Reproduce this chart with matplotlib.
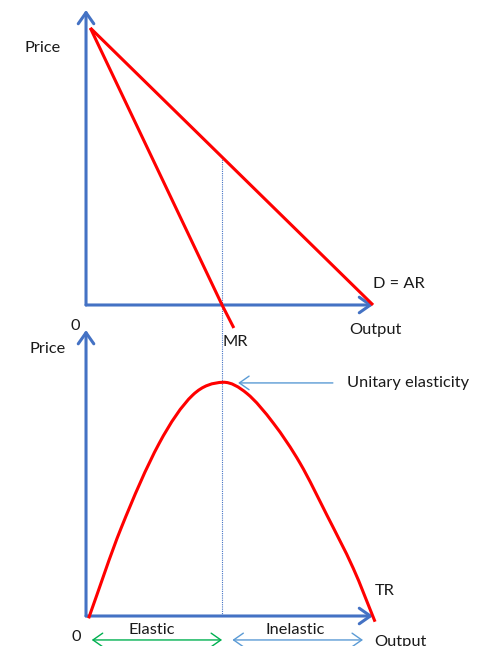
import matplotlib
matplotlib.use("Agg")
import matplotlib.pyplot as plt
from matplotlib.path import Path
from matplotlib.patches import PathPatch

# ── Style ─────────────────────────────────────────────────────────────────────
AX_BLUE   = "#4472c4"
ARR_BLUE  = "#5b9bd5"
RED       = "#ff0000"
GREEN     = "#00b050"
TXT       = "#1a1a1a"
plt.rcParams["font.family"] = ["Lato", "DejaVu Sans"]
FS = 11.8

# ── Data ──────────────────────────────────────────────────────────────────────
# top panel: price vs output
demand_q = [0.15, 10.0]
demand_p = [10.0, 0.0]
mr_q = [0.15, 4.74, 5.15]
mr_p = [10.0, 0.0, -0.83]
q_unit = 4.74                      # unitary elasticity output
p_unit = 5.36                      # price on demand curve at q_unit

# bottom panel: total revenue vs output
tr_q = [0.09, 1.22, 2.55, 3.72, 4.78, 5.60, 6.53, 7.46, 8.39, 9.31, 10.07]
tr_v = [-0.25, 9.37, 18.45, 23.61, 24.97, 23.79, 20.59, 16.31, 10.79, 5.10, -0.61]

# axis extents
q_axis_end = 10.0
p_axis_end = 10.65
tr_axis_end = 30.55

fig = plt.figure(figsize=(4.89, 6.46), dpi=100)
ax_top = fig.add_axes([0, 0, 1, 1])
ax_bot = fig.add_axes([0, 0, 1, 1])
for ax in (ax_top, ax_bot):
    ax.set_axis_off()
    ax.patch.set_alpha(0)
    ax.set_xlim(-2.997, 14.04)
ax_top.set_ylim(-12.31, 11.01)
ax_bot.set_ylim(-3.205, 65.81)


def axis_arrow(ax, x0, y0, x1, y1, color=AX_BLUE, lw=2.2, style="->", ms=16):
    ax.annotate("", xy=(x1, y1), xytext=(x0, y0),
                arrowprops=dict(arrowstyle=f"{style},head_length=0.5,head_width=0.35",
                                color=color, lw=lw, shrinkA=0, shrinkB=0,
                                mutation_scale=ms))


def smooth_path(xs, ys):
    """Cubic Hermite curve through the points (tangents from neighbours)."""
    n = len(xs)
    slopes = []
    for i in range(n):
        a, b = max(i - 1, 0), min(i + 1, n - 1)
        slopes.append((ys[b] - ys[a]) / (xs[b] - xs[a]))
    verts, codes = [(xs[0], ys[0])], [Path.MOVETO]
    for i in range(n - 1):
        h = (xs[i + 1] - xs[i]) / 3
        verts += [(xs[i] + h, ys[i] + slopes[i] * h),
                  (xs[i + 1] - h, ys[i + 1] - slopes[i + 1] * h),
                  (xs[i + 1], ys[i + 1])]
        codes += [Path.CURVE4] * 3
    return Path(verts, codes)


# ── Top panel ─────────────────────────────────────────────────────────────────
axis_arrow(ax_top, 0, 0, 0, p_axis_end)
axis_arrow(ax_top, 0, 0, q_axis_end, 0)
ax_top.plot(demand_q, demand_p, color=RED, lw=2.2, solid_capstyle="butt", zorder=3)
ax_top.plot(mr_q, mr_p, color=RED, lw=2.2, solid_capstyle="butt", zorder=3)

# dotted guide from demand curve down to bottom panel's output axis
y_disp = ax_bot.transData.transform((q_unit, 0))[1]
p_bottom = ax_top.transData.inverted().transform((0, y_disp))[1]
ax_top.plot([q_unit, q_unit], [p_unit, p_bottom], color=AX_BLUE, lw=0.8,
            ls=(0, (1, 1)), zorder=1)

ax_top.text(-1.5, 9.28, "Price", fontsize=FS, color=TXT, ha="center", va="center")
ax_top.text(-0.38, -0.76, "0", fontsize=FS, color=TXT, ha="center", va="center")
ax_top.text(10.1, -0.9, "Output", fontsize=FS, color=TXT, ha="center", va="center")
ax_top.text(10.9, 0.76, "D = AR", fontsize=FS, color=TXT, ha="center", va="center")
ax_top.text(5.19, -1.34, "MR", fontsize=FS, color=TXT, ha="center", va="center")

# ── Bottom panel ──────────────────────────────────────────────────────────────
axis_arrow(ax_bot, 0, 0, 0, tr_axis_end)
axis_arrow(ax_bot, 0, 0, q_axis_end, 0)
ax_bot.add_patch(PathPatch(smooth_path(tr_q, tr_v), facecolor="none",
                           edgecolor=RED, lw=2.2, capstyle="butt", zorder=3))

ax_bot.text(-1.33, 28.5, "Price", fontsize=FS, color=TXT, ha="center", va="center")
ax_bot.text(-0.35, -2.2, "0", fontsize=FS, color=TXT, ha="center", va="center")
ax_bot.text(10.97, -2.75, "Output", fontsize=FS, color=TXT, ha="center", va="center")
ax_bot.text(10.4, 2.65, "TR", fontsize=FS, color=TXT, ha="center", va="center")
ax_bot.text(9.1, 24.9, "Unitary elasticity", fontsize=FS, color=TXT,
            ha="left", va="center")
axis_arrow(ax_bot, 8.6, 24.9, 5.3, 24.9, color=ARR_BLUE, lw=1.0, ms=14)

ax_bot.text(2.3, -1.5, "Elastic", fontsize=FS, color=TXT, ha="center", va="center")
ax_bot.text(7.28, -1.5, "Inelastic", fontsize=FS, color=TXT, ha="center", va="center")
axis_arrow(ax_bot, 0.2, -2.56, 4.74, -2.56, color=GREEN, lw=1.0, style="<->", ms=14)
axis_arrow(ax_bot, 5.1, -2.56, 9.65, -2.56, color=ARR_BLUE, lw=1.0, style="<->", ms=14)

fig.savefig("out.png", dpi=100)
